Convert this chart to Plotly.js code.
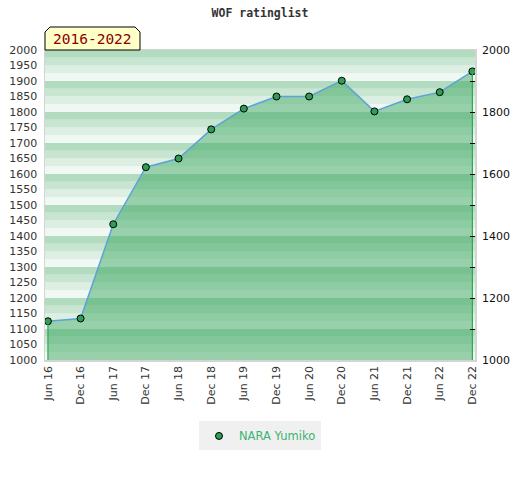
<!DOCTYPE html>
<html>
<head>
<meta charset="utf-8">
<script src="https://cdn.plot.ly/plotly-3.0.1.min.js"></script>
<style>html,body{margin:0;padding:0;background:#fff;}#chart{width:520px;height:480px;}</style>
</head>
<body>
<div id="chart"></div>
<script>
var categories = ["Jun 16","Dec 16","Jun 17","Dec 17","Jun 18","Dec 18","Jun 19","Dec 19","Jun 20","Dec 20","Jun 21","Dec 21","Jun 22","Dec 22"];
var ratings = [1125, 1134, 1438, 1622, 1650, 1744, 1811, 1850, 1850, 1901, 1802, 1841, 1864, 1931];
var seriesName = "NARA Yumiko";
var yMin = 1000, yMax = 2000;
var leftTicks = [];
for (var t = yMin; t <= yMax; t += 50) leftTicks.push(t);

var stripeColors = ['#f0f8f3', '#dcefe2', '#c7e5d0', '#b2dbbf'];
var shapes = [];
for (var v = yMin; v < yMax; v += 25) {
  var k = ((v - yMin) / 25) % 4;
  shapes.push({type:'rect', xref:'paper', yref:'y', x0:0, x1:1, y0:v, y1:v+25,
    fillcolor: stripeColors[k], line:{width:0}, layer:'below'});
}
// badge
shapes.push({type:'path', xref:'paper', yref:'paper',
  path:'M0,1 L0,1.0581 L0.01163,1.0742 L0.2093,1.0742 L0.2209,1.0581 L0.2209,1 Z',
  fillcolor:'#ffffc8', line:{color:'#000', width:1}});

var n = categories.length;
var traces = [
  {x: categories, y: ratings, type:'scatter', mode:'lines', fill:'tozeroy',
   fillcolor:'rgba(56,166,94,0.48)', line:{width:0}, showlegend:false, hoverinfo:'skip'},
  {x: [categories[0], categories[0], null, categories[n-1], categories[n-1]],
   y: [yMin, ratings[0], null, yMin, ratings[n-1]], type:'scatter', mode:'lines',
   line:{color:'#2daa4f', width:1.2}, showlegend:false, hoverinfo:'skip', yaxis:'y2'},
  {x: categories, y: ratings, type:'scatter', mode:'lines',
   line:{color:'#5ba3d9', width:1.5}, showlegend:false},
  {x: categories, y: ratings, type:'scatter', mode:'markers', name: seriesName,
   marker:{color:'#2f9e55', size:7, line:{color:'#000', width:1}}}
];

var layout = {
  width:520, height:480,
  margin:{l:45, r:45, t:50, b:120},
  paper_bgcolor:'#fff', plot_bgcolor:'#fff',
  title:{text:'<b>WOF ratinglist</b>', font:{family:'DejaVu Sans Mono', size:11.5, color:'#333'},
         x:0.5, xanchor:'center', y:0.973, yanchor:'middle', yref:'container'},
  xaxis:{type:'category', range:[-0.09, n-1+0.08], tickangle:-90,
         tickfont:{family:'DejaVu Sans', size:11, color:'#333'},
         showgrid:false, zeroline:false, showline:true, mirror:true, linecolor:'#d4d4d4', linewidth:1.5,
         ticks:'', fixedrange:true},
  yaxis:{range:[yMin, yMax], tickvals:leftTicks, ticktext:leftTicks.map(String),
         tickfont:{family:'DejaVu Sans', size:11, color:'#333'},
         showgrid:false, zeroline:false, showline:true, mirror:true, linecolor:'#d4d4d4', linewidth:1.5,
         ticks:'', ticklabelstandoff:4},
  yaxis2:{range:[yMin, yMax], overlaying:'y', side:'right', dtick:200,
          tickfont:{family:'DejaVu Sans', size:11, color:'#111'},
          ticks:'inside', ticklen:5, tickcolor:'#000', tickwidth:1,
          minor:{dtick:100, ticks:'inside', ticklen:5, tickcolor:'#000', tickwidth:1},
          showgrid:false, zeroline:false, showline:false, ticklabelstandoff:6},
  shapes: shapes,
  annotations:[{text:'2016-2022', xref:'paper', yref:'paper', x:0.1105, y:1.0355,
    xanchor:'center', yanchor:'middle', showarrow:false,
    font:{family:'DejaVu Sans Mono', size:14.5, color:'#8b0000'}}],
  showlegend:true,
  legend:{orientation:'h', x:0.5, xanchor:'center', y:-0.245, yanchor:'middle',
    bgcolor:'#f0f0f0', font:{family:'DejaVu Sans', size:11.5, color:'#3cb371'}, itemwidth:30}
};
Plotly.newPlot('chart', traces, layout, {displayModeBar:false, staticPlot:true});
</script>
</body>
</html>
